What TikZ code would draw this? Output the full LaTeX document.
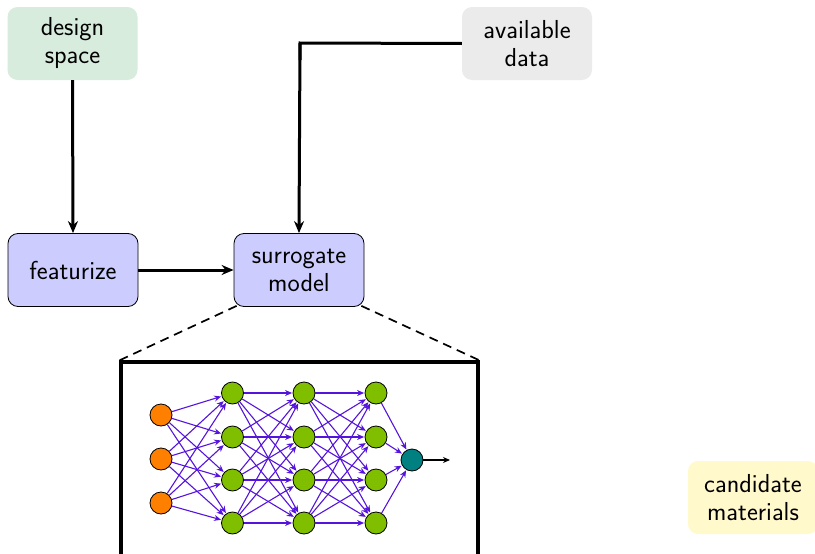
\documentclass[tikz,border=0pt]{standalone}
\usetikzlibrary{arrows.meta}
\definecolor{cgreen}{RGB}{216,236,222}
\definecolor{cgray}{RGB}{235,235,235}
\definecolor{clav}{RGB}{204,204,255}
\definecolor{cyel}{RGB}{255,249,204}
\definecolor{cnode}{RGB}{128,190,0}
\definecolor{corange}{RGB}{255,128,0}
\definecolor{cteal}{RGB}{0,128,128}
\definecolor{cedge}{RGB}{85,20,220}
\begin{document}
\begin{tikzpicture}[x=1pt,y=-1pt,
  box/.style={rounded corners=10pt, minimum width=130pt, minimum height=73pt, align=center,
    font=\sffamily\fontsize{26}{28}\selectfont, inner sep=0pt},
  flow/.style={line width=3pt, -{Stealth[length=12pt,width=10pt]}},
  neuron/.style={circle, draw=black, line width=0.8pt, minimum size=22pt, inner sep=0pt},
  syn/.style={cedge, line width=1.1pt, -{Stealth[length=7pt,width=6pt]}, shorten >=0.5pt}]
\useasboundingbox (0,0) rectangle (815,554);
\node[box, fill=cgreen] (ds) at (72.5,43.5) {design\\space};
\node[box, fill=cgray] (ad) at (527,43.5) {available\\data};
\node[box, fill=clav, draw=black, line width=0.8pt] (fz) at (73,270) {featurize};
\node[box, fill=clav, draw=black, line width=0.8pt] (sm) at (299,270) {surrogate\\model};
\node[box, fill=cyel] (cm) at (753,497.5) {candidate\\materials};
\node[draw=black, line width=3.2pt, minimum width=357pt, minimum height=200pt, inner sep=0pt] (nn) at (299.5,462) {};
\coordinate (bend) at (300,43);
\draw[flow] (ds.south) -- (fz.north);
\draw[line width=3pt] (ad.west) -- (bend) -- (300,60);
\draw[flow] (bend) -- (sm.north);
\draw[flow] (fz.east) -- (sm.west);
\draw[line width=1.7pt, dash pattern=on 9pt off 6pt] (sm.south west) ++(3,-1) -- (nn.north west);
\draw[line width=1.7pt, dash pattern=on 9pt off 6pt] (sm.south east) ++(-3,-1) -- (nn.north east);
% inputs
\foreach \i/\y in {1/415,2/459,3/503} \node[neuron, fill=corange] (i\i) at (161,\y) {};
\foreach \l/\x in {1/232.5,2/304,3/376}
  \foreach \j/\y in {1/393,2/437,3/480,4/523}
    \node[neuron, fill=cnode] (h\l\j) at (\x,\y) {};
\node[neuron, fill=cteal] (o) at (412,460) {};
\coordinate (oe) at (450,460);
\foreach \i in {1,2,3} \foreach \j in {1,2,3,4} \draw[syn] (i\i) -- (h1\j);
\foreach \i in {1,2,3,4} \foreach \j in {1,2,3,4} {
  \draw[syn] (h1\i) -- (h2\j);
  \draw[syn] (h2\i) -- (h3\j);}
\foreach \i in {1,2,3,4} \draw[syn] (h3\i) -- (o);
\draw[line width=1.1pt, -{Stealth[length=7pt,width=6pt]}] (o) -- (oe);
\end{tikzpicture}
\end{document}
